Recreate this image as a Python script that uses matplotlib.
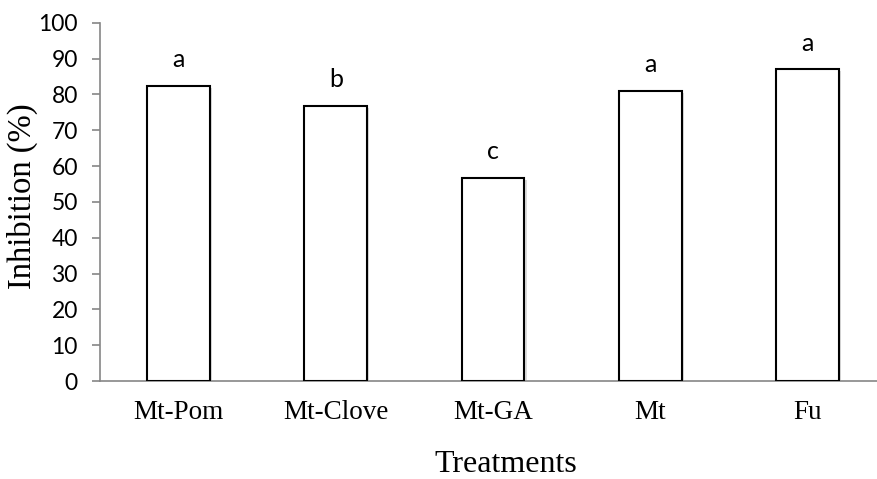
"""
Inhibition bar chart for the five treatments.
"""

import numpy as np
import matplotlib
matplotlib.use("Agg")
import matplotlib.pyplot as plt
import matplotlib.patheffects as pe

# data
treatments = ["Mt-Pom", "Mt-Clove", "Mt-GA", "Mt", "Fu"]
inhibition = [82.4, 76.8, 56.7, 80.9, 87.0]
letters = ["a", "b", "c", "a", "a"]
y_ticks = list(range(0, 101, 10))


def plot_inhibition(save_path: str = "out.png", dpi: int = 100) -> None:
    fig = plt.figure(figsize=(8.77, 4.79), dpi=dpi)
    W, H = 877, 479

    # axes spans past the right edge like the original (cropped)
    ax = fig.add_axes([100 / W, 98 / H, 786 / W, 358.3 / H])

    x = np.arange(len(treatments))
    shadow = [pe.SimplePatchShadow(offset=(1.5, -1.5), shadow_rgbFace="0.6", alpha=0.35),
              pe.Normal()]
    bars = ax.bar(x, inhibition, width=0.40, color="white", edgecolor="black",
                  linewidth=1.5, zorder=3)
    for b in bars:
        b.set_path_effects(shadow)

    # significance letters
    for xi, v, lab in zip(x, inhibition, letters):
        ax.annotate(lab, (xi, v), xytext=(0, 13.5), textcoords="offset points",
                    ha="center", va="baseline", fontsize=18, family="Lato")

    ax.set_xlim(-0.5, len(treatments) - 0.5)
    ax.set_ylim(0, 100)
    ax.set_yticks(y_ticks)
    ax.set_xticks(x)
    ax.set_xticklabels(treatments, family="Liberation Serif", fontsize=19.5)
    ax.set_yticklabels([str(t) for t in y_ticks], family="Lato", fontsize=16.5)

    ax.tick_params(axis="y", length=6, width=1.2, colors="#868686",
                   labelcolor="black", pad=10)
    ax.tick_params(axis="x", length=0, pad=14, labelcolor="black")

    for side in ["top", "right"]:
        ax.spines[side].set_visible(False)
    for side in ["left", "bottom"]:
        ax.spines[side].set_color("#868686")
        ax.spines[side].set_linewidth(1.2)

    # axis titles
    fig.text(22 / W, 1 - 196 / H, "Inhibition (%)", rotation=90, ha="center",
             va="center", family="Liberation Serif", fontsize=23.5)
    fig.text(506 / W, 1 - 464 / H, "Treatments", ha="center", va="center",
             family="Liberation Serif", fontsize=23)

    fig.savefig(save_path, dpi=dpi)
    plt.close(fig)


plot_inhibition()
